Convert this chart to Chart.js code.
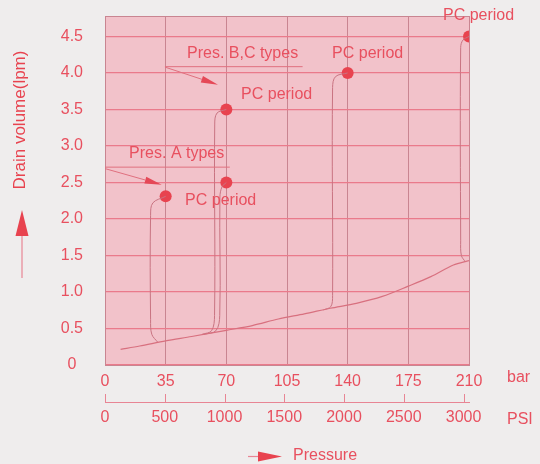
<!DOCTYPE html>
<html><head><meta charset="utf-8">
<script src="https://cdn.jsdelivr.net/npm/chart.js@4/dist/chart.umd.min.js"></script>
<style>html,body{margin:0;padding:0;background:#efeded;} #wrap{width:540px;height:464px;}</style>
</head><body><div id="wrap"><canvas id="c" width="540" height="464"></canvas></div>
<script>
// ---- data ----
const barTicks = [0, 35, 70, 105, 140, 175, 210];
const psiTicks = [0, 500, 1000, 1500, 2000, 2500, 3000];
const volTicks = [0, 0.5, 1.0, 1.5, 2.0, 2.5, 3.0, 3.5, 4.0, 4.5];

const baseBar = [9, 20, 35, 50, 70, 85, 100, 115, 130, 145, 160, 175, 188, 201, 210];
const baseVol = [0.215, 0.26, 0.33, 0.39, 0.475, 0.54, 0.63, 0.70, 0.777, 0.845, 0.94, 1.08, 1.21, 1.37, 1.43];

const curveABar = [30.5, 27, 26.3, 26.3, 27.6, 35];
const curveAVol = [0.31, 0.42, 0.62, 2.05, 2.22, 2.31];
const curveBBar = [57, 64, 66.2, 66.3, 67.5, 70];
const curveBVol = [0.42, 0.47, 0.68, 2.30, 2.44, 2.50];
const curveCBar = [56, 61.5, 63.2, 63.3, 64.6, 70];
const curveCVol = [0.42, 0.47, 0.68, 3.30, 3.45, 3.50];
const curve140Bar = [126, 130.3, 131.3, 131.3, 133, 140];
const curve140Vol = [0.755, 0.80, 0.95, 3.80, 3.95, 4.00];
const curve210Bar = [208, 205.6, 205.2, 205.2, 206.5, 210];
const curve210Vol = [1.41, 1.50, 1.70, 4.35, 4.45, 4.50];

const pcBar = [35, 70, 70, 140, 210];
const pcVol = [2.31, 2.50, 3.50, 4.00, 4.50];

const noteTexts = ['Pres. A types', 'Pres. B,C types', 'PC period', 'PC period', 'PC period', 'PC period'];
const noteBar = [13.9, 47.3, 46.2, 78.5, 131, 195];
const noteVol = [2.90, 4.27, 2.25, 3.70, 4.26, 4.79];

const PSI_PER_BAR = 14.5038;

// ---- styles ----
const TXT = '#e8505f';
const FONT = 'Liberation Sans, Arial, Helvetica, sans-serif';
const PAGE = '#efeded';
const PLOT = '#f2c2ca';
const HGRID = '#ea7a8b';
const VGRID = '#c98591';
const LINE = '#d8707f';
const DOT = '#e8434f';

const pts = (xs, ys) => xs.map((x, i) => ({x: x, y: ys[i]}));
const curve = (xs, ys) => ({
  data: pts(xs, ys), showLine: true, borderColor: '#c97482', borderWidth: 1,
  pointRadius: 0, tension: 0.35, fill: false
});

const decor = {
  id: 'decor',
  beforeDraw(chart) {
    const {ctx, chartArea: a} = chart;
    ctx.save();
    ctx.fillStyle = PAGE;
    ctx.fillRect(0, 0, chart.width, chart.height);
    ctx.fillStyle = PLOT;
    ctx.fillRect(a.left, a.top, a.right - a.left, a.bottom - a.top);
    ctx.restore();
  },
  afterDraw(chart) {
    const {ctx, chartArea: a, scales} = chart;
    const X = v => scales.x.getPixelForValue(v);
    const Y = v => scales.y.getPixelForValue(v);
    ctx.save();
    // plot top/right border
    ctx.strokeStyle = VGRID; ctx.lineWidth = 1;
    ctx.beginPath();
    ctx.moveTo(a.left, a.top + 0.5); ctx.lineTo(a.right + 0.5, a.top + 0.5); ctx.lineTo(a.right + 0.5, a.bottom);
    ctx.stroke();
    // PSI tick marks (upward)
    const ps = scales.psi;
    ctx.strokeStyle = '#e88594'; ctx.lineWidth = 1;
    psiTicks.forEach(v => {
      const px = Math.round(ps.getPixelForValue(v)) + 0.5;
      ctx.beginPath(); ctx.moveTo(px, ps.top); ctx.lineTo(px, ps.top - 8); ctx.stroke();
    });
    // arrows helper
    const arrow = (x1, y1, x2, y2, len, hw, shaftColor, headColor, lw) => {
      const ang = Math.atan2(y2 - y1, x2 - x1);
      const bx = x2 - len * Math.cos(ang), by = y2 - len * Math.sin(ang);
      ctx.strokeStyle = shaftColor; ctx.lineWidth = lw;
      ctx.beginPath(); ctx.moveTo(x1, y1); ctx.lineTo(bx, by); ctx.stroke();
      ctx.fillStyle = headColor;
      ctx.beginPath();
      ctx.moveTo(x2, y2);
      ctx.lineTo(bx + hw * Math.sin(ang), by - hw * Math.cos(ang));
      ctx.lineTo(bx - hw * Math.sin(ang), by + hw * Math.cos(ang));
      ctx.closePath(); ctx.fill();
    };
    // leader lines
    ctx.strokeStyle = '#e0707f'; ctx.lineWidth = 1;
    ctx.beginPath(); ctx.moveTo(X(0), Y(2.71)); ctx.lineTo(X(72), Y(2.71)); ctx.stroke();
    ctx.beginPath(); ctx.moveTo(X(34.6), Y(4.086)); ctx.lineTo(X(114), Y(4.086)); ctx.stroke();
    arrow(X(0), Y(2.69), X(32.7), Y(2.47), 17, 3.5, '#e0707f', '#e54857', 1);
    arrow(X(34.6), Y(4.08), X(65.2), Y(3.84), 17, 3.5, '#e0707f', '#e54857', 1);
    // notes
    ctx.fillStyle = TXT; ctx.font = '16px ' + FONT;
    ctx.textAlign = 'left'; ctx.textBaseline = 'middle';
    noteTexts.forEach((t, i) => ctx.fillText(t, X(noteBar[i]), Y(noteVol[i])));
    // axis unit labels
    ctx.fillText('bar', 507, scales.x.top + 13);
    ctx.fillText('PSI', 507, ps.top + 18);
    ctx.fillText('Pressure', 293, 456);
    // pressure arrow
    arrow(248, 456.5, 282, 456.5, 24, 5, '#e88594', '#e8434f', 1.2);
    // y title
    ctx.save();
    ctx.translate(20, 120); ctx.rotate(-Math.PI / 2);
    ctx.font = '17px ' + FONT; ctx.textAlign = 'center';
    ctx.fillText('Drain volume(lpm)', 0, 0);
    ctx.restore();
    arrow(22, 278, 22, 210, 26, 6.5, '#e88594', '#e8434f', 1.2);
    ctx.restore();
  }
};

new Chart(document.getElementById('c'), {
  type: 'scatter',
  data: {
    datasets: [
      {data: pts(baseBar, baseVol), showLine: true, borderColor: LINE, borderWidth: 1.2, pointRadius: 0, tension: 0.3},
      curve(curveABar, curveAVol),
      curve(curveBBar, curveBVol),
      curve(curveCBar, curveCVol),
      curve(curve140Bar, curve140Vol),
      curve(curve210Bar, curve210Vol),
      {data: pts(pcBar, pcVol), showLine: false, pointRadius: 6, pointBackgroundColor: DOT, pointBorderColor: DOT, pointBorderWidth: 0}
    ]
  },
  options: {
    responsive: false, animation: false, devicePixelRatio: 1,
    layout: {padding: {top: 16, right: 71, left: 0, bottom: 0}},
    plugins: {legend: {display: false}, tooltip: {enabled: false}},
    scales: {
      x: {
        type: 'linear', position: 'bottom', min: 0, max: 210,
        afterBuildTicks: s => { s.ticks = barTicks.map(v => ({value: v})); },
        afterFit: s => { s.height = 37; },
        ticks: {color: TXT, font: {family: FONT, size: 16}, padding: 7, maxRotation: 0, autoSkip: false,
          callback: v => String(v)},
        grid: {color: VGRID, lineWidth: 1, drawTicks: false},
        border: {display: true, color: VGRID, width: 1}
      },
      psi: {
        type: 'linear', position: 'bottom', min: 0, max: 210 * PSI_PER_BAR,
        afterBuildTicks: s => { s.ticks = psiTicks.map(v => ({value: v})); },
        afterFit: s => { s.height = 62; },
        ticks: {color: TXT, font: {family: FONT, size: 16}, padding: 6, maxRotation: 0, autoSkip: false,
          callback: v => String(v)},
        grid: {display: true, drawOnChartArea: false, drawTicks: false},
        border: {display: true, color: '#e88594', width: 1}
      },
      y: {
        type: 'linear', position: 'left', min: 0, max: 4.78,
        afterBuildTicks: s => { s.ticks = volTicks.map(v => ({value: v})); },
        afterFit: s => { s.width = 105; s.paddingTop = 0; s.paddingBottom = 0; },
        ticks: {color: TXT, font: {family: FONT, size: 16}, padding: 22, crossAlign: 'center',
          callback: v => v === 0 ? '0' : v.toFixed(1)},
        grid: {color: HGRID, lineWidth: 1.2, drawTicks: false},
        border: {display: true, color: VGRID, width: 1}
      }
    }
  },
  plugins: [decor]
});
</script>
</body></html>
